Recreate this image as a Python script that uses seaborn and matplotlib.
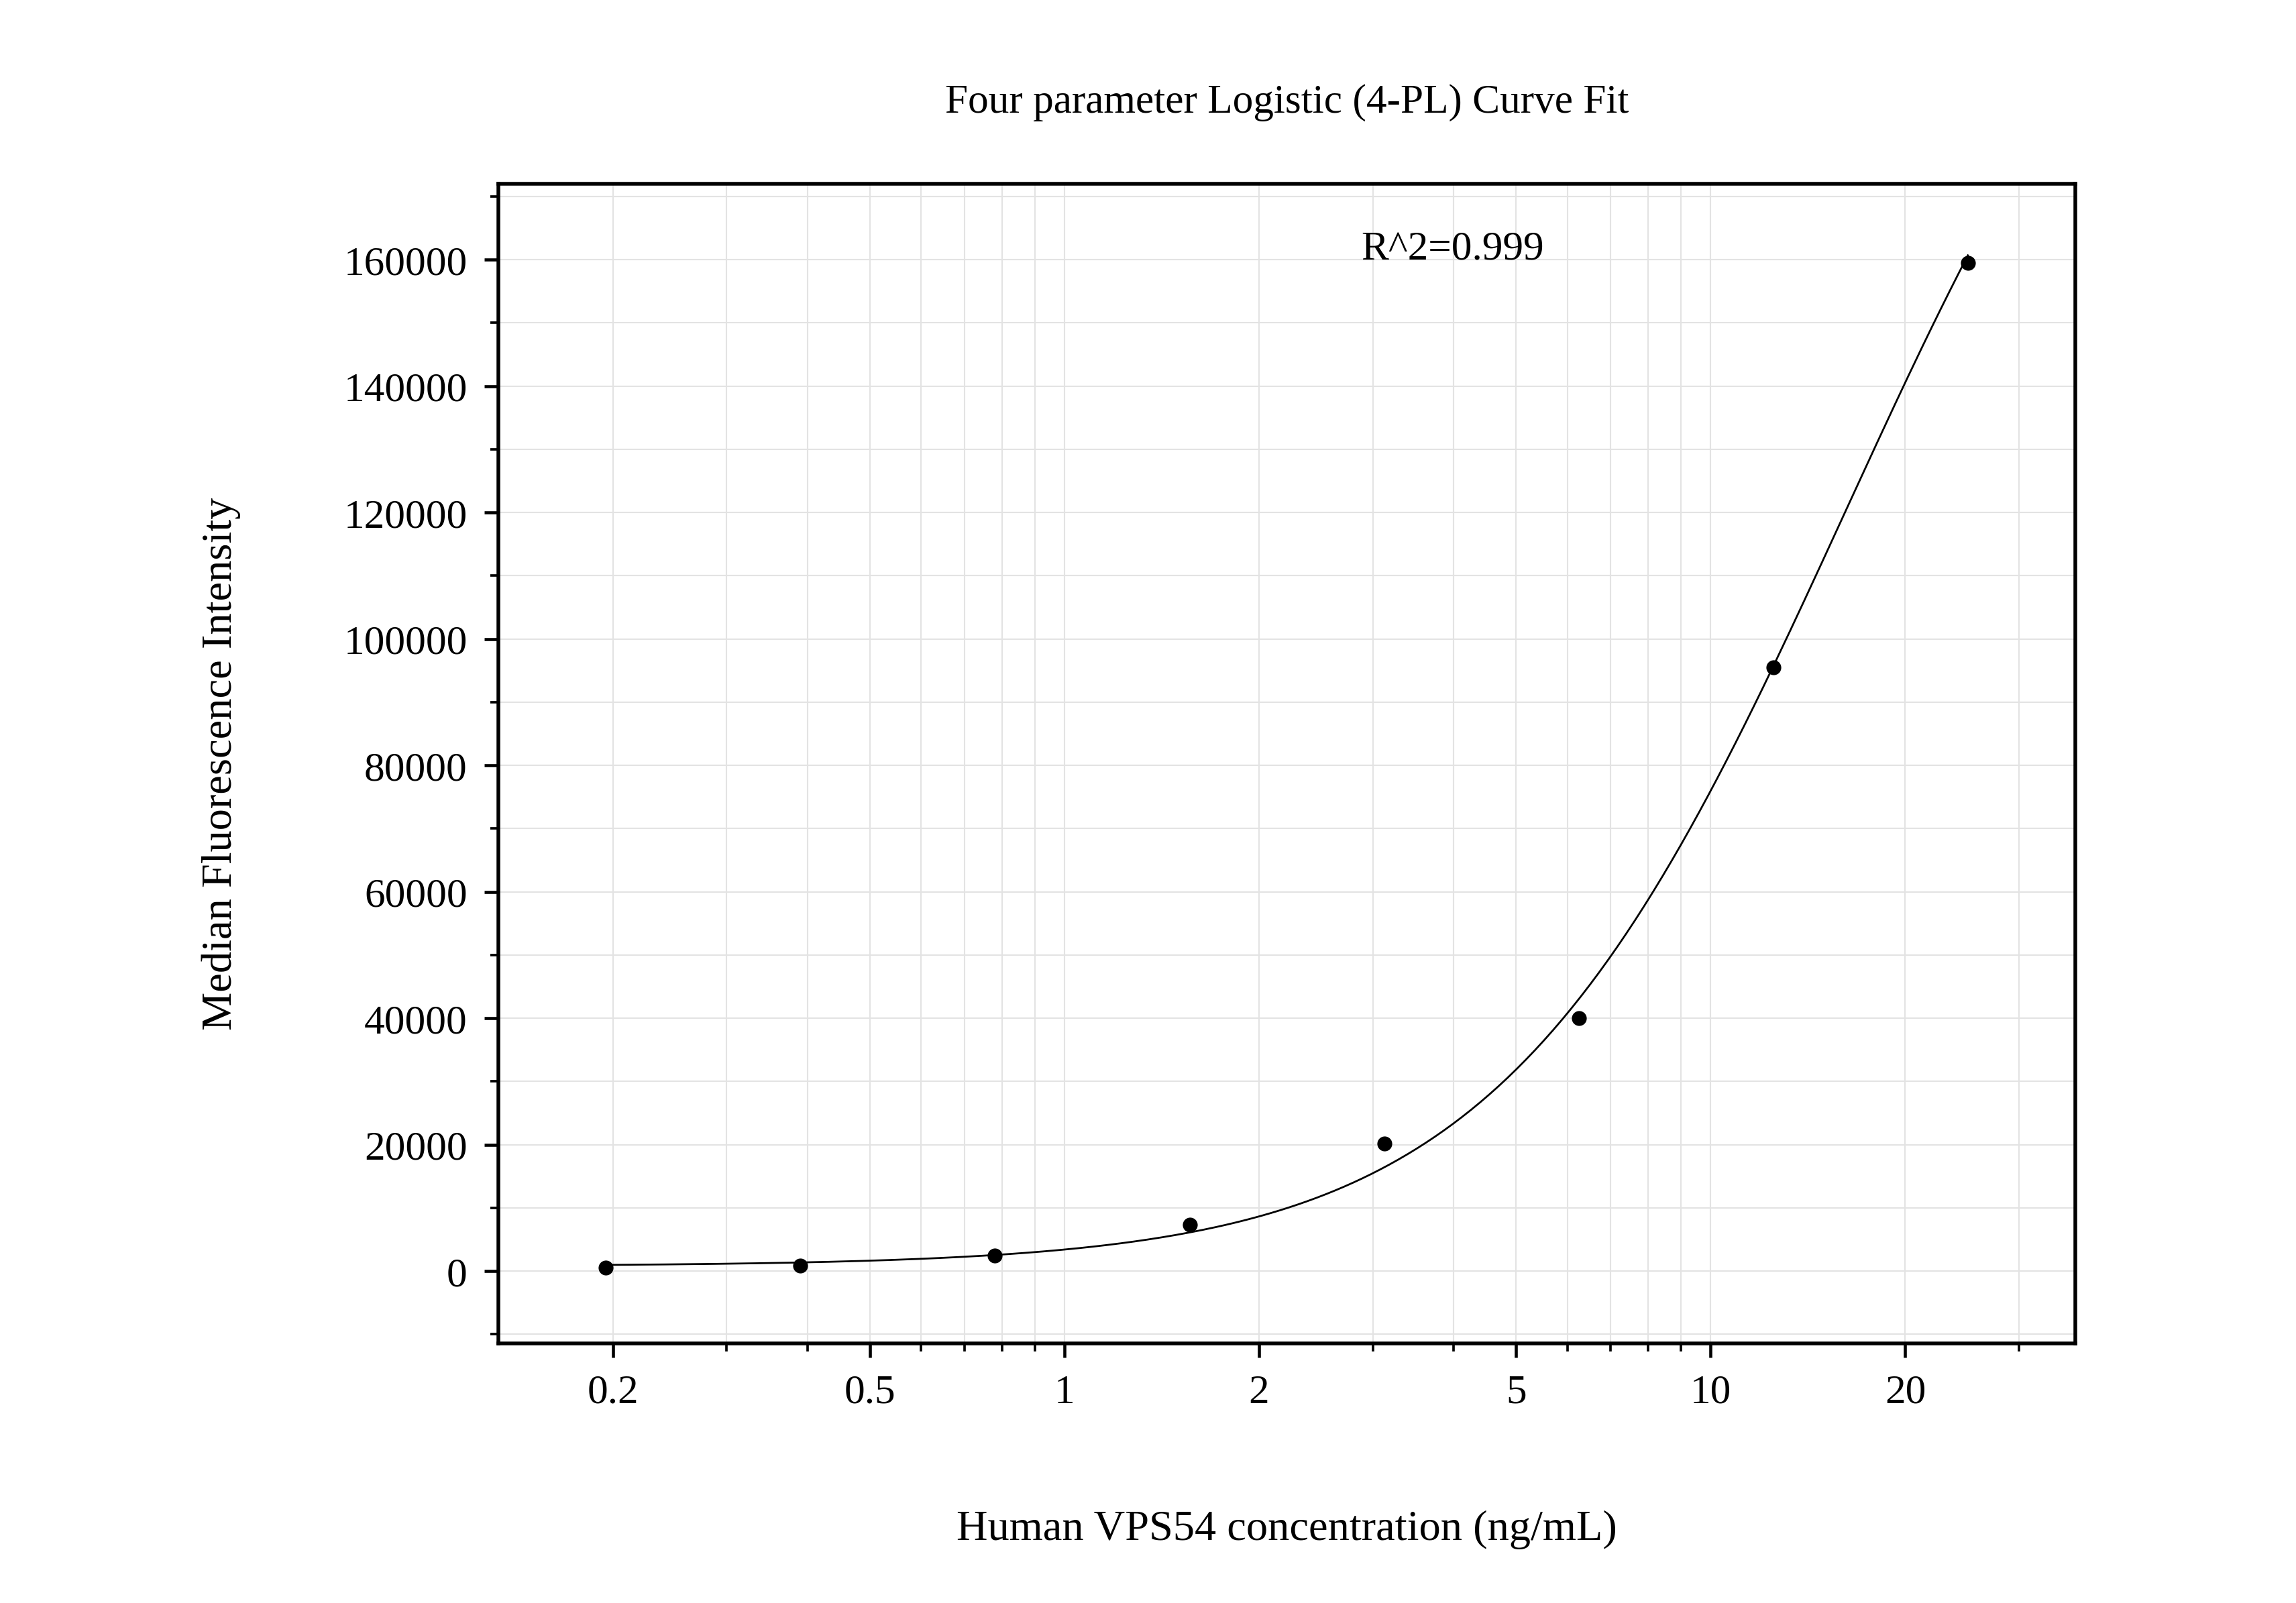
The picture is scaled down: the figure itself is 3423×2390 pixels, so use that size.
import numpy as np
import pandas as pd
import matplotlib
matplotlib.use("Agg")
import matplotlib.pyplot as plt
import seaborn as sns
from matplotlib.ticker import FixedLocator, NullFormatter, MultipleLocator, LogLocator

conc = [0.195, 0.39, 0.78, 1.5625, 3.125, 6.25, 12.5, 25.0]
mfi = [600, 900, 2500, 7300, 20200, 40000, 95500, 159500]
xticks = [0.2, 0.5, 1, 2, 5, 10, 20]
xticklabels = ["0.2", "0.5", "1", "2", "5", "10", "20"]

# 4PL fit by grid search over the measured points
x = np.array(conc); y = np.array(mfi, float)
A = 800.0
Cs = np.logspace(0.5, 2.5, 80)
Bs = np.linspace(0.8, 2.5, 80)
Ds = np.logspace(5.0, 6.5, 80)
C, B, D = np.meshgrid(Cs, Bs, Ds, indexing="ij")
pred = D[..., None] + (A - D[..., None]) / (1 + (x / C[..., None]) ** B[..., None])
err = ((pred - y) ** 2).sum(-1)
i = np.unravel_index(np.argmin(err), err.shape)
c, b, d = Cs[i[0]], Bs[i[1]], Ds[i[2]]
xf = np.logspace(np.log10(0.195), np.log10(25), 300)
yf = d + (A - d) / (1 + (xf / c) ** b)

plt.rcParams["font.family"] = "Liberation Serif"
fig = plt.figure(figsize=(15.52, 10.84), dpi=220.56)
ax = fig.add_axes([0.217, 0.162, 0.687, 0.723])
sns.lineplot(x=xf, y=yf, ax=ax, color="black", lw=0.9)
sns.scatterplot(x=conc, y=mfi, ax=ax, color="black", s=45, edgecolor="black", zorder=5)
ax.set_xscale("log")
ax.set_xlim(0.133, 36.7)
ax.set_ylim(-11400, 172000)
ax.xaxis.set_major_locator(FixedLocator(xticks))
ax.set_xticklabels(xticklabels)
ax.xaxis.set_minor_locator(LogLocator(base=10, subs=np.arange(1, 10)))
ax.xaxis.set_minor_formatter(NullFormatter())
ax.yaxis.set_major_locator(MultipleLocator(20000))
ax.yaxis.set_minor_locator(MultipleLocator(10000))
ax.grid(True, which="both", color="#e3e3e3", lw=0.7)
ax.set_axisbelow(True)
for s in ax.spines.values():
    s.set_linewidth(1.8)
ax.tick_params(which="major", direction="out", length=7, width=1.5, labelsize=20, pad=8)
ax.tick_params(which="minor", direction="out", length=4, width=1.2)
ax.set_xlabel("Human VPS54 concentration (ng/mL)", fontsize=21, labelpad=48)
ax.set_ylabel("Median Fluorescence Intensity", fontsize=21, labelpad=50)
ax.set_title("Four parameter Logistic (4-PL) Curve Fit", fontsize=20, pad=35)
ax.text(0.605, 0.935, "R^2=0.999", transform=ax.transAxes, fontsize=20, ha="center")
fig.savefig("out.png", dpi=220.56)
